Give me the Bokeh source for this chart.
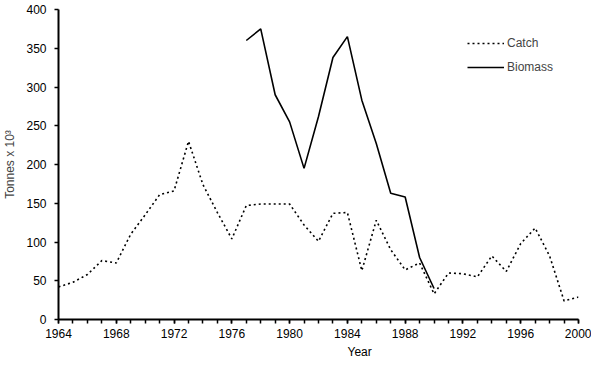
from bokeh.plotting import figure
from bokeh.models import FixedTicker, Range1d, Title
from bokeh.embed import file_html
from bokeh.resources import INLINE

years = list(range(1964, 2001))
catch = [42, 48, 58, 76, 73, 110, 135, 161, 166, 230, 174, 138, 104, 147, 149, 149, 149,
         122, 101, 137, 138, 63, 128, 90, 64, 73, 33, 60, 59, 55, 82, 62, 98, 118, 82, 24, 29]
biomass_years = list(range(1977, 1991))
biomass = [360, 375, 290, 255, 195, 262, 338, 365, 283, 227, 163, 158, 80, 40]

x_major = list(range(1964, 2001, 4))
y_ticks = list(range(0, 401, 50))

FONT = "Liberation Sans"

p = figure(width=591, height=362, output_backend="svg", toolbar_location=None,
           x_range=Range1d(1964, 2000), y_range=Range1d(0, 400),
           min_border_left=58, min_border_right=13, min_border_top=9, min_border_bottom=43)
p.outline_line_color = None
p.xgrid.grid_line_color = None
p.ygrid.grid_line_color = None

p.line(years, catch, line_color="black", line_width=1.6, line_dash="2 3", legend_label="Catch")
p.line(biomass_years, biomass, line_color="black", line_width=1.6, legend_label="Biomass")

for ax in (p.xaxis[0], p.yaxis[0]):
    ax.axis_line_width = 2
    ax.axis_line_color = "black"
    ax.major_tick_line_width = 1.5
    ax.major_tick_line_color = "black"
    ax.major_tick_out = 4
    ax.major_tick_in = 0
    ax.major_label_text_font = FONT
    ax.major_label_text_font_size = "12px"
    ax.major_label_text_color = "black"

p.xaxis.ticker = FixedTicker(ticks=x_major, minor_ticks=years)
p.xaxis.minor_tick_out = 4
p.xaxis.minor_tick_in = 0
p.xaxis.minor_tick_line_width = 1.5
p.xaxis.minor_tick_line_color = "black"
p.xaxis.major_label_standoff = 5

p.yaxis.ticker = FixedTicker(ticks=y_ticks, minor_ticks=[])
p.yaxis.major_label_standoff = 8
p.yaxis.axis_label = "Tonnes x 10³"
p.yaxis.axis_label_text_font = FONT
p.yaxis.axis_label_text_font_size = "12px"
p.yaxis.axis_label_text_font_style = "normal"
p.yaxis.axis_label_standoff = 6

p.add_layout(Title(text="Year", align="left", offset=289, standoff=4,
                   text_font=FONT, text_font_size="12px", text_font_style="normal",
                   text_color="black"), "below")

lg = p.legend[0]
lg.location = (409, 242)
lg.padding = 0
lg.margin = 0
lg.spacing = 4
lg.glyph_width = 37
lg.glyph_height = 20
lg.label_height = 20
lg.label_standoff = 3
lg.border_line_color = None
lg.background_fill_alpha = 0
lg.label_text_font = FONT
lg.label_text_font_size = "12px"

open("out.html", "w").write(file_html(p, INLINE))
